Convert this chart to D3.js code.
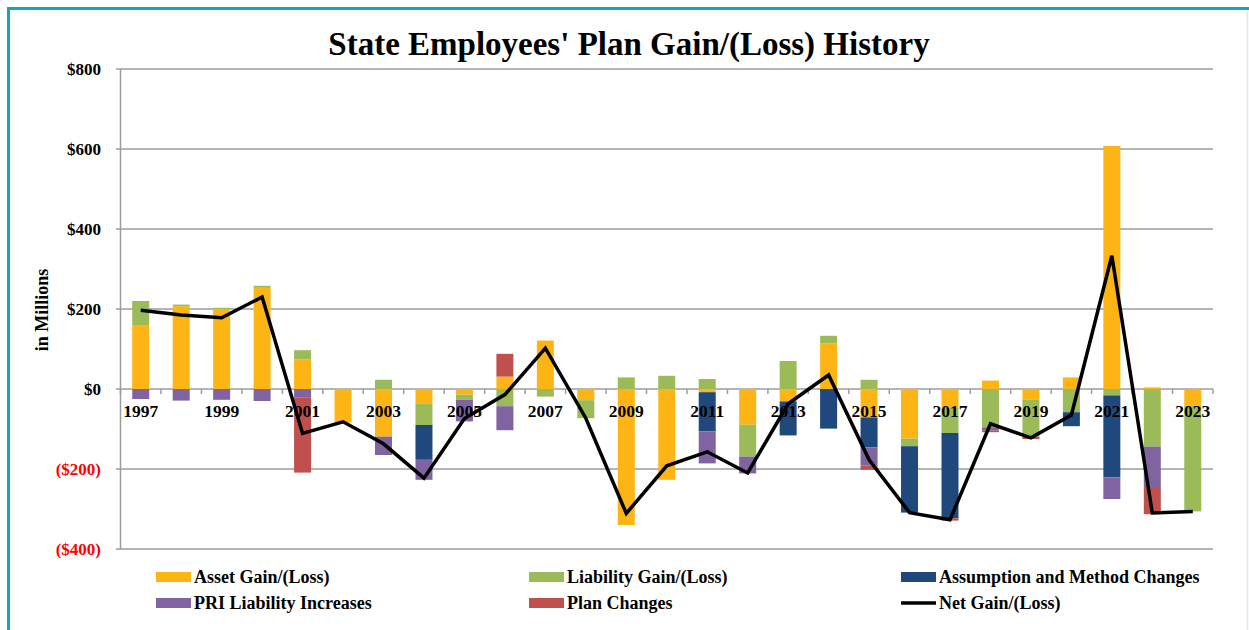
<!DOCTYPE html>
<html>
<head>
<meta charset="utf-8">
<script src="https://cdn.jsdelivr.net/npm/d3@7"></script>
<style>
  body { margin: 0; background: #fff; }
  text { font-family: "Liberation Serif", "Times New Roman", serif; font-weight: bold; }
</style>
</head>
<body>
<div id="chart"></div>
<script>
// Data (in $ millions)
const years = ["1997","1998","1999","2000","2001","2002","2003","2004","2005","2006","2007","2008","2009","2010",
               "2011","2012","2013","2014","2015","2016","2017","2018","2019","2020","2021","2022","2023"];
const assetGain = [160, 207, 200, 253, 74, -84, -119, -36, -14, 31, 121, -28, -340, -227,
                   -8, -89, -31, 114, -71, -124, -46, 21, -26, 29, 608, 4, -42];
const liabilityGain = [60, 4, 3, 5, 23, 0, 23, -54, -13, -43, -19, -45, 29, 33,
                       25, -80, 70, 19, 23, -19, -64, -96, -94, -58, -16, -144, -264];
const assumptionChanges = [0, 0, 0, 0, 0, 0, 0, -87, 0, 0, 0, 0, 0, 0,
                           -98, 0, -85, -99, -75, -166, -213, 0, 0, -35, -205, 0, 0];
const priIncreases = [-25, -29, -27, -30, -22, 0, -46, -50, -54, -60, 0, 0, 0, 0,
                      -80, -42, 0, 0, -45, 0, 0, -8, 0, 0, -54, -101, 0];
const planChanges = [0, 0, 0, 0, -187, 0, 0, 0, 0, 57, 0, 0, 0, 0,
                     0, 0, 0, 0, -11, 0, -6, -4, -5, 0, 0, -68, 0];
const netGain = [197, 185, 178, 230, -111, -82, -137, -223, -74, -14, 102, -73, -311, -192,
                 -157, -210, -37, 35, -177, -309, -327, -87, -122, -65, 333, -310, -306];
const yTicks = [800, 600, 400, 200, 0, -200, -400];

const seriesNames = ["Asset Gain/(Loss)", "Liability Gain/(Loss)", "Assumption and Method Changes",
                     "PRI Liability Increases", "Plan Changes"];
const seriesValues = [assetGain, liabilityGain, assumptionChanges, priIncreases, planChanges];
const colors = ["#FDB515", "#9BBB59", "#1F497D", "#8064A2", "#C0504D"];

// build rows for d3.stack
const rows = years.map((yr, i) => {
    const r = {year: yr};
    seriesNames.forEach((s, j) => r[s] = seriesValues[j][i]);
    return r;
});

const W = 1249, H = 630;
const svg = d3.select("#chart").append("svg").attr("width", W).attr("height", H);

// frame
svg.append("path")
    .attr("d", `M8.5,${H} V8.5 H${W}`)
    .attr("fill", "none")
    .attr("stroke", "#13A8B5")
    .attr("stroke-width", 3);
svg.append("line")
    .attr("x1", 1247.5).attr("x2", 1247.5).attr("y1", 10).attr("y2", H)
    .attr("stroke", "#cdeef2").attr("stroke-width", 1.5);

// scales
const x = d3.scaleBand().domain(years).range([120.5, 1213]).paddingInner(0).paddingOuter(0);
const y = d3.scaleLinear().domain([-400, 800]).range([549, 69]);
const barW = 17;

// gridlines
svg.append("g")
    .selectAll("line")
    .data(yTicks)
    .enter().append("line")
    .attr("x1", 116).attr("x2", 1213)
    .attr("y1", d => y(d)).attr("y2", d => y(d))
    .attr("stroke", "#9d9d9d")
    .attr("stroke-width", 1.5);

// y axis line
svg.append("line")
    .attr("x1", 120.5).attr("x2", 120.5).attr("y1", y(800)).attr("y2", y(-400))
    .attr("stroke", "#9d9d9d").attr("stroke-width", 1.5);

// y labels
svg.append("g")
    .selectAll("text")
    .data(yTicks)
    .enter().append("text")
    .attr("x", 101)
    .attr("y", d => y(d))
    .attr("dy", "0.35em")
    .attr("text-anchor", "end")
    .style("font-size", "17px")
    .attr("fill", d => d < 0 ? "#FF0000" : "#000")
    .text(d => d < 0 ? `($${-d})` : `$${d}`);

// y axis title
svg.append("text")
    .attr("transform", "rotate(-90)")
    .attr("x", -310)
    .attr("y", 48)
    .attr("text-anchor", "middle")
    .style("font-size", "18px")
    .text("in Millions");

// title
svg.append("text")
    .attr("x", 629)
    .attr("y", 55)
    .attr("text-anchor", "middle")
    .style("font-size", "33px")
    .text("State Employees' Plan Gain/(Loss) History");

// stacked bars (positives up, negatives down, like Excel)
const stacked = d3.stack()
    .keys(seriesNames)
    .offset(d3.stackOffsetDiverging)(rows);

svg.append("g")
    .selectAll("g")
    .data(stacked)
    .enter().append("g")
    .attr("fill", (d, i) => colors[i])
    .selectAll("rect")
    .data(d => d)
    .enter().append("rect")
    .attr("x", d => x(d.data.year) + x.bandwidth() / 2 - barW / 2)
    .attr("y", d => y(Math.max(d[0], d[1])))
    .attr("width", barW)
    .attr("height", d => Math.abs(y(d[0]) - y(d[1])));

// category tick marks on the zero line
const bounds = years.map(d => x(d)).concat([x.range()[1]]);
svg.append("g")
    .selectAll("line")
    .data(bounds)
    .enter().append("line")
    .attr("x1", d => d).attr("x2", d => d)
    .attr("y1", y(0)).attr("y2", y(0) + 5)
    .attr("stroke", "#9d9d9d").attr("stroke-width", 1.5);

// x labels, every other year
svg.append("g")
    .attr("transform", `translate(0,${y(0)})`)
    .call(d3.axisBottom(x).tickValues(years.filter((d, i) => i % 2 === 0)).tickSize(0))
    .call(g => g.select(".domain").remove())
    .selectAll("text")
    .attr("y", 0)
    .attr("dy", "28px")
    .attr("fill", "#000")
    .style("font-size", "17.5px")
    .style("font-family", "'Liberation Serif', serif")
    .style("font-weight", "bold");

// net gain line
svg.append("path")
    .datum(netGain)
    .attr("fill", "none")
    .attr("stroke", "#000")
    .attr("stroke-width", 3.5)
    .attr("d", d3.line().x((d, i) => x(years[i]) + x.bandwidth() / 2).y(d => y(d)));

// legend
const legendItems = [
    {name: seriesNames[0], color: colors[0], lx: 156, ly: 577},
    {name: seriesNames[1], color: colors[1], lx: 529, ly: 577},
    {name: seriesNames[2], color: colors[2], lx: 901, ly: 577},
    {name: seriesNames[3], color: colors[3], lx: 156, ly: 603},
    {name: seriesNames[4], color: colors[4], lx: 529, ly: 603},
    {name: "Net Gain/(Loss)", color: null, lx: 901, ly: 603}
];
const legend = svg.append("g");
legendItems.forEach(item => {
    if (item.color) {
        legend.append("rect")
            .attr("x", item.lx).attr("y", item.ly - 5)
            .attr("width", 35).attr("height", 10)
            .attr("fill", item.color);
    } else {
        legend.append("line")
            .attr("x1", item.lx).attr("x2", item.lx + 35)
            .attr("y1", item.ly).attr("y2", item.ly)
            .attr("stroke", "#000").attr("stroke-width", 3.5);
    }
    legend.append("text")
        .attr("x", item.lx + 38)
        .attr("y", item.ly)
        .attr("dy", "0.35em")
        .style("font-size", "18px")
        .text(item.name);
});
</script>
</body>
</html>
